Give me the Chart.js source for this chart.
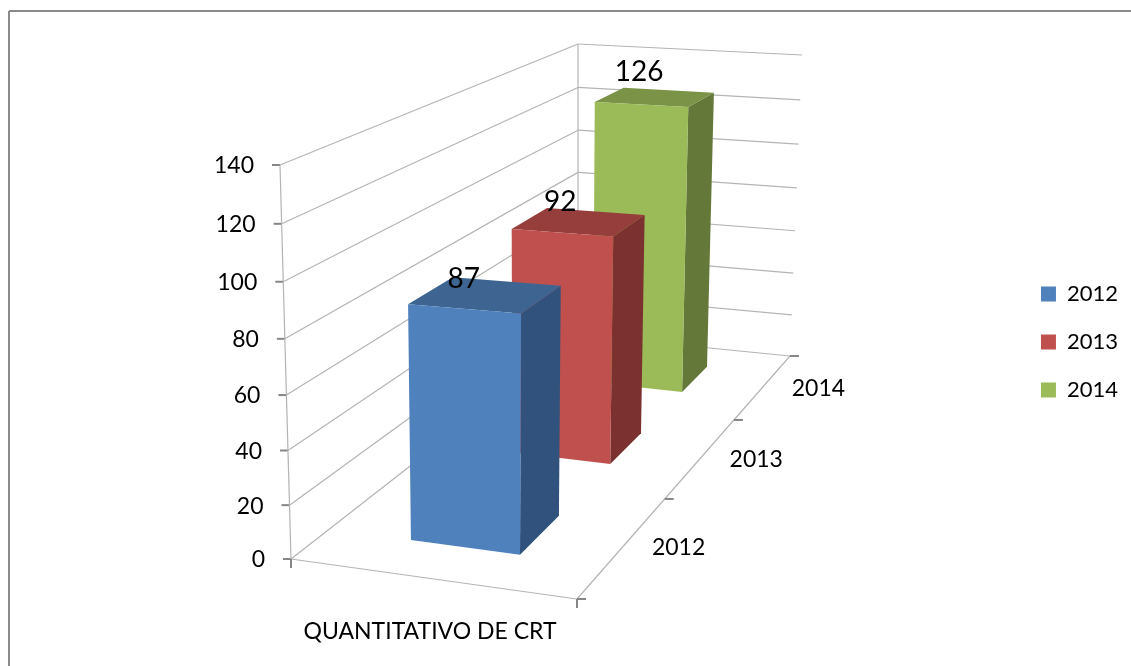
<!DOCTYPE html>
<html lang="pt">
<head>
  <meta charset="UTF-8">
  <title>Quantitativo de CRT</title>
  <script src="https://cdn.jsdelivr.net/npm/chart.js"></script>
  <style>
    body { margin: 0; background: #fff; }
    canvas { display: block; }
  </style>
</head>
<body>
  <canvas id="crtChart" width="1131" height="666"></canvas>

  <script>
    // Chart data
    const categories = ["QUANTITATIVO DE CRT"];
    const years = ["2012", "2013", "2014"];
    const values = [87, 92, 126];
    const yTickMax = 140;
    const yTickStep = 20;

    // Colours per year: front, top and side faces
    const frontColors = ["#4f81bd", "#c0504d", "#9bbb59"];
    const topColors = ["#3e6592", "#953e3c", "#7a9347"];
    const sideColors = ["#30527c", "#7a312f", "#64783a"];

    // Screen corners of the 3D box the bars stand in
    const corners = {
      floorFrontLeft: [291, 559], floorFrontRight: [577, 599],
      floorBackRight: [790, 356], floorBackLeft: [578, 335],
      topFrontLeft: [280, 165], topFrontRight: [583, 180],
      topBackRight: [802, 55], topBackLeft: [578, 44]
    };

    function mix(a, b, t) {
      return [a[0] + (b[0] - a[0]) * t, a[1] + (b[1] - a[1]) * t];
    }

    // A little perspective along an axis
    function warp(t, a) {
      return a * t / (1 + (a - 1) * t);
    }

    // u = across, v = height (0-1), z = depth
    function project(u, v, z) {
      const c = corners;
      const floor = mix(mix(c.floorFrontLeft, c.floorFrontRight, u), mix(c.floorBackLeft, c.floorBackRight, u), z);
      const top = mix(mix(c.topFrontLeft, c.topFrontRight, u), mix(c.topBackLeft, c.topBackRight, u), z);
      return mix(floor, top, warp(v, 0.95));
    }

    function depth(t) {
      return warp(t, 1.4);
    }

    function face(ctx, points, color) {
      ctx.beginPath();
      points.forEach((p, i) => i ? ctx.lineTo(p[0], p[1]) : ctx.moveTo(p[0], p[1]));
      ctx.closePath();
      ctx.fillStyle = color;
      ctx.fill();
    }

    function seg(ctx, a, b, color, width) {
      ctx.beginPath();
      ctx.moveTo(a[0], a[1]);
      ctx.lineTo(b[0], b[1]);
      ctx.strokeStyle = color;
      ctx.lineWidth = width;
      ctx.stroke();
    }

    function label(ctx, text, x, y, font, align) {
      ctx.font = font;
      ctx.fillStyle = "#000";
      ctx.textAlign = align;
      ctx.textBaseline = "middle";
      ctx.fillText(text, x, y);
    }

    const plugin3d = {
      id: "plugin3d",
      afterLayout(chart) {
        // Legend sits a little above the middle of the plot
        chart.legend.top -= 20;
        chart.legend.bottom -= 20;
      },
      beforeDatasetsDraw(chart) {
        const ctx = chart.ctx;
        const y = chart.scales.y;
        const base = y.getPixelForValue(0);
        const full = y.getPixelForValue(yTickMax);
        const toV = px => (base - px) / (base - full);
        const gridColor = "#b4b4b4";
        const tickColor = "#868686";
        const gridWidth = 1.2;
        const axisFont = "23px Lato";
        ctx.save();

        // Outer frame
        seg(ctx, [9, 11], [1131, 11], "#8a8a8a", 2);
        seg(ctx, [9, 11], [9, 666], "#8a8a8a", 2);

        // Walls and value axis
        y.ticks.forEach(tick => {
          const v = toV(y.getPixelForValue(tick.value));
          const a = project(0, v, 0), b = project(0, v, 1), c = project(1, v, 1);
          seg(ctx, a, b, gridColor, gridWidth);
          seg(ctx, b, c, gridColor, gridWidth);
          seg(ctx, [a[0] - 8, a[1]], a, tickColor, 2);
          label(ctx, tick.label, a[0] - 26, a[1] + 1, axisFont, "right");
        });
        seg(ctx, project(0, 0, 0), project(0, 1, 0), gridColor, gridWidth);
        seg(ctx, project(0, 0, 1), project(0, 1, 1), gridColor, gridWidth);

        // Floor edges and their tick marks
        const fl = project(0, 0, 0), fr = project(1, 0, 0);
        seg(ctx, fl, fr, gridColor, gridWidth);
        seg(ctx, fr, project(1, 0, 1), gridColor, gridWidth);
        seg(ctx, fl, [fl[0], fl[1] + 9], tickColor, 2);
        seg(ctx, fr, [fr[0], fr[1] + 9], tickColor, 2);
        for (let i = 0; i <= years.length; i++) {
          const p = project(1, 0, depth(i / years.length));
          seg(ctx, p, [p[0] + 9, p[1]], tickColor, 2);
        }

        // Category under the front edge, depth labels beside the right edge
        const mid = mix(fl, fr, 0.5);
        label(ctx, chart.scales.x.getLabelForValue(0), mid[0] - 4, mid[1] + 53, axisFont, "center");
        years.forEach((year, i) => {
          const p = project(1, 0, depth((i + 0.5) / years.length));
          label(ctx, year, p[0] + 55, p[1] + 2, axisFont, "center");
        });

        // Bars, back to front
        const u0 = 0.295, u1 = 0.69, halfDepth = 0.067;
        const tops = [];
        for (let i = years.length - 1; i >= 0; i--) {
          const el = chart.getDatasetMeta(i).data[0];
          const v = toV(el.y);
          const slot = (i + 0.5) / years.length;
          const z0 = depth(slot - halfDepth), z1 = depth(slot + halfDepth);
          face(ctx, [project(u1, 0, z0), project(u1, 0, z1), project(u1, v, z1), project(u1, v, z0)], sideColors[i]);
          face(ctx, [project(u0, v, z0), project(u1, v, z0), project(u1, v, z1), project(u0, v, z1)], topColors[i]);
          face(ctx, [project(u0, 0, z0), project(u1, 0, z0), project(u1, v, z0), project(u0, v, z0)], frontColors[i]);
          tops[i] = project((u0 + u1) / 2, v, (z0 + z1) / 2);
        }

        // Value labels go over all the bars
        values.forEach((value, i) => {
          label(ctx, String(value), tops[i][0] - 22 + 3 * i, tops[i][1] - 16 - 4.5 * i, "28px Lato", "center");
        });

        ctx.restore();
        return false; // the flat bars are replaced by the drawing above
      }
    };

    Chart.defaults.font.family = "Lato";
    Chart.defaults.color = "#000";

    new Chart(document.getElementById("crtChart"), {
      type: "bar",
      data: {
        labels: categories,
        datasets: years.map((year, i) => ({
          label: year,
          data: [values[i]],
          backgroundColor: frontColors[i],
          borderWidth: 0
        }))
      },
      plugins: [plugin3d],
      options: {
        responsive: false,
        animation: false,
        layout: { padding: { left: 280, top: 165, bottom: 107, right: 3 } },
        scales: {
          x: {
            grid: { display: false, drawTicks: false },
            border: { display: false },
            ticks: { display: false }
          },
          y: {
            min: 0,
            max: yTickMax,
            grid: { display: false, drawTicks: false },
            border: { display: false },
            ticks: { display: false, stepSize: yTickStep }
          }
        },
        plugins: {
          tooltip: { enabled: false },
          legend: {
            position: "right",
            labels: { boxWidth: 15, boxHeight: 15, padding: 26, font: { size: 22 }, color: "#000" }
          }
        }
      }
    });
  </script>
</body>
</html>
